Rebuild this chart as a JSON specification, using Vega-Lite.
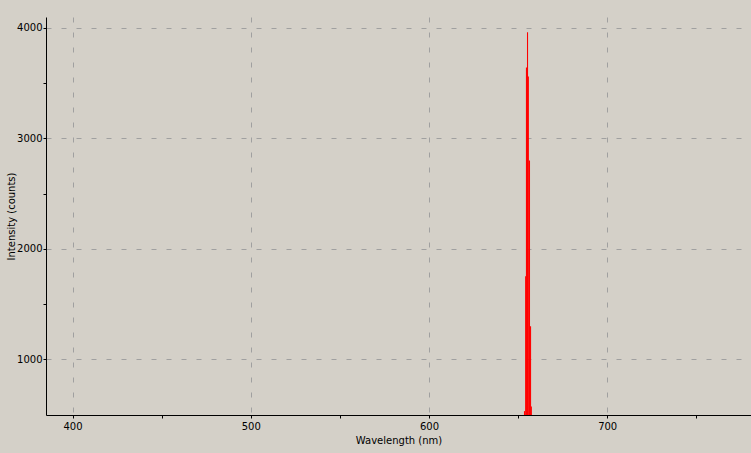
{
  "$schema": "https://vega.github.io/schema/vega-lite/v6.json",
  "width": 705,
  "height": 398,
  "autosize": "none",
  "padding": {"left": 46, "top": 17, "right": 0, "bottom": 38},
  "background": "#D4D0C8",
  "config": {
    "view": {"stroke": null, "fill": "#D4D0C8"},
    "font": "DejaVu Sans",
    "axis": {
      "domainColor": "#000000",
      "domainWidth": 1,
      "tickColor": "#000000",
      "tickSize": 3,
      "labelColor": "#000000",
      "labelFont": "DejaVu Sans",
      "labelFontSize": 10,
      "titleFont": "DejaVu Sans",
      "titleFontSize": 10,
      "titleFontWeight": "normal",
      "titleColor": "#000000",
      "gridColor": "#A0A0A0",
      "gridDash": [5, 10],
      "gridWidth": 1
    }
  },
  "data": {
    "values": [
      {"start": 653.3, "end": 653.9, "counts": 531},
      {"start": 653.9, "end": 654.4, "counts": 1752},
      {"start": 654.4, "end": 655.0, "counts": 3641},
      {"start": 655.0, "end": 655.6, "counts": 3958},
      {"start": 655.6, "end": 656.1, "counts": 3559},
      {"start": 656.1, "end": 656.7, "counts": 2798},
      {"start": 656.7, "end": 657.3, "counts": 1299},
      {"start": 657.3, "end": 657.8, "counts": 574}
    ]
  },
  "mark": {"type": "rect", "color": "#FF0000", "clip": true},
  "encoding": {
    "x": {
      "field": "start",
      "type": "quantitative",
      "title": "Wavelength (nm)",
      "scale": {"domain": [385.1, 780.7], "nice": false, "zero": false},
      "axis": {
        "values": [400, 450, 500, 550, 600, 650, 700, 750],
        "labelExpr": "datum.value % 100 == 0 ? datum.label : ''",
        "labelPadding": 3,
        "titlePadding": 4,
        "gridOpacity": {"condition": {"test": "datum.value % 100 == 0", "value": 1}, "value": 0}
      }
    },
    "x2": {"field": "end"},
    "y": {
      "field": "counts",
      "type": "quantitative",
      "title": "Intensity (counts)",
      "scale": {"domain": [496, 4097], "nice": false, "zero": false},
      "axis": {
        "values": [1000, 1500, 2000, 2500, 3000, 3500, 4000],
        "labelExpr": "datum.value % 1000 == 0 ? datum.label : ''",
        "format": "d",
        "labelPadding": 1,
        "titlePadding": 0,
        "gridOpacity": {"condition": {"test": "datum.value % 1000 == 0", "value": 1}, "value": 0}
      }
    },
    "y2": {"datum": 0}
  }
}
